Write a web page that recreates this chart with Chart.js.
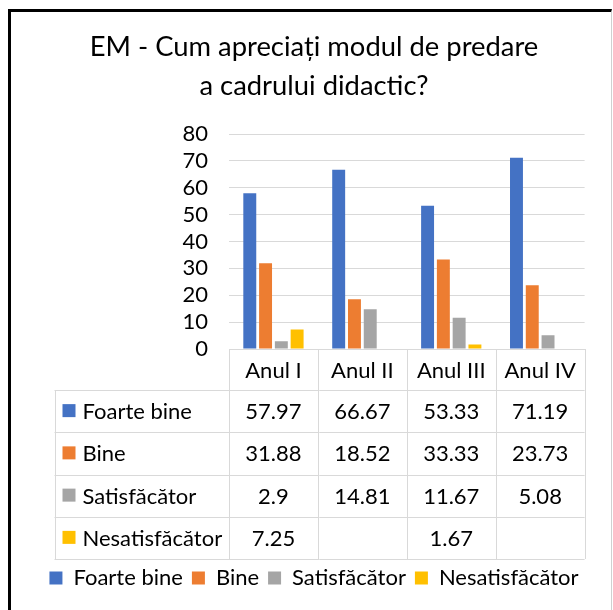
<!DOCTYPE html>
<html>
<head>
<meta charset="utf-8">
<script src="https://cdn.jsdelivr.net/npm/chart.js@4/dist/chart.umd.min.js"></script>
<style>
  body { margin: 0; background: #fff; }
  #wrap { position: relative; width: 613px; height: 610px; }
  #frame {
    position: absolute; left: 8px; top: 9px; width: 600px; height: 610px;
    border-left: 3px solid #000; border-top: 3px solid #000; border-right: 1px solid #d0d0d0;
  }
  #chart { position: absolute; left: 0; top: 0; }
</style>
</head>
<body>
<div id="wrap">
  <div id="frame"></div>
  <canvas id="chart" width="613" height="610"></canvas>
</div>
<script>
const categories = ["Anul I", "Anul II", "Anul III", "Anul IV"];
const foarteBine = [57.97, 66.67, 53.33, 71.19];
const bine = [31.88, 18.52, 33.33, 23.73];
const satisfacator = [2.9, 14.81, 11.67, 5.08];
const nesatisfacator = [7.25, null, 1.67, null];
const seriesNames = ["Foarte bine", "Bine", "Satisfăcător", "Nesatisfăcător"];
const seriesColors = ["#4472C4", "#ED7D31", "#A5A5A5", "#FFC000"];
const titleLines = ["EM - Cum apreciați modul de predare", "a cadrului didactic?"];

const FONT = "Lato";
const gridColor = "#d9d9d9";

// data table under the plot, drawn from the x scale
const tablePlugin = {
    id: "dataTable",
    afterDraw(chart) {
        const ctx = chart.ctx;
        const x = chart.scales.x;
        const top = x.top;
        const headH = 41, rowH = 42.25;
        const catW = (x.right - x.left) / categories.length;
        const tableLeft = x.left - 174.5;
        const bottom = top + headH + rowH * chart.data.datasets.length;

        ctx.save();
        ctx.strokeStyle = gridColor;
        ctx.lineWidth = 1;
        ctx.beginPath();
        // vertical lines of the category columns
        for (let i = 0; i <= categories.length; i++) {
            const vx = Math.round(x.left + catW * i) + 0.5;
            ctx.moveTo(vx, top);
            ctx.lineTo(vx, bottom);
        }
        ctx.moveTo(Math.round(tableLeft) + 0.5, top + headH);
        ctx.lineTo(Math.round(tableLeft) + 0.5, bottom);
        for (let r = 0; r <= chart.data.datasets.length; r++) {
            const hy = Math.round(top + headH + rowH * r) + 0.5;
            ctx.moveTo(tableLeft, hy);
            ctx.lineTo(x.right, hy);
        }
        ctx.stroke();

        ctx.fillStyle = "#000";
        ctx.font = "22px " + FONT;
        ctx.textBaseline = "middle";
        ctx.textAlign = "center";
        categories.forEach((c, i) => {
            ctx.fillText(c, x.getPixelForValue(i), top + headH / 2 + 1);
        });

        chart.data.datasets.forEach((ds, r) => {
            const cy = top + headH + rowH * (r + 0.5);
            ctx.fillStyle = ds.backgroundColor;
            ctx.fillRect(tableLeft + 8, cy - 7, 13, 13);
            ctx.fillStyle = "#000";
            ctx.textAlign = "left";
            ctx.fillText(ds.label, tableLeft + 28, cy + 1);
            ctx.textAlign = "center";
            ds.data.forEach((v, i) => {
                if (v !== null) ctx.fillText(String(v), x.getPixelForValue(i), cy + 1);
            });
        });
        ctx.restore();
    }
};

const seriesData = [foarteBine, bine, satisfacator, nesatisfacator];

new Chart(document.getElementById("chart"), {
    type: "bar",
    data: {
        labels: categories,
        datasets: seriesNames.map((name, i) => ({
            label: name,
            data: seriesData[i],
            backgroundColor: seriesColors[i],
            categoryPercentage: 0.71,
            barPercentage: 0.82
        }))
    },
    options: {
        responsive: false,
        animation: false,
        layout: { padding: { left: 20, right: 5, top: 0, bottom: 11 } },
        plugins: {
            title: {
                display: true,
                text: titleLines,
                color: "#000",
                font: { family: FONT, size: 27.4, weight: "normal", lineHeight: 39 / 27.4 },
                padding: { top: 28, bottom: 28 }
            },
            legend: {
                position: "bottom",
                labels: {
                    color: "#000",
                    boxWidth: 13,
                    boxHeight: 13,
                    padding: 9,
                    font: { family: FONT, size: 22 }
                }
            },
            tooltip: { enabled: false }
        },
        scales: {
            x: {
                grid: { display: false },
                border: { display: true, color: gridColor },
                ticks: { display: false },
                afterFit(scale) { scale.height = 209; }
            },
            y: {
                min: 0,
                max: 80,
                ticks: { stepSize: 10, autoSkip: false, color: "#000", padding: 21, font: { family: FONT, size: 22 } },
                grid: { color: gridColor, drawTicks: false },
                border: { display: false },
                afterFit(scale) { scale.width = 209; }
            },
            // empty right-hand spacer so the plot ends where the reference does
            spacer: {
                type: "linear",
                position: "right",
                grid: { display: false },
                border: { display: false },
                ticks: { display: false },
                afterFit(scale) { scale.width = 23.4; }
            }
        }
    },
    plugins: [tablePlugin]
});
</script>
</body>
</html>
